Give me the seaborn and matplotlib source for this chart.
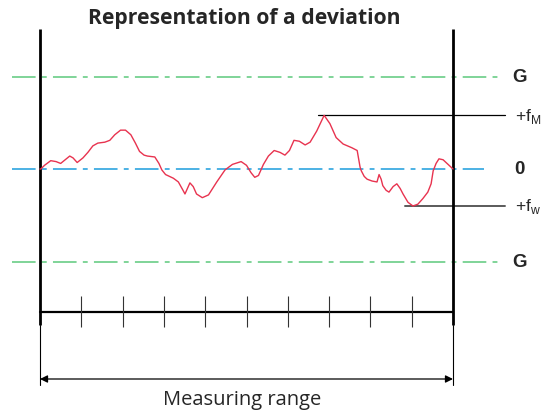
import matplotlib
matplotlib.use("Agg")
import matplotlib.pyplot as plt
import numpy as np
import pandas as pd
import seaborn as sns

# Position along the measuring range (10 scale divisions) and deviation
# (in units of the tolerance limit G)
position = [0.00, 0.02, 0.11, 0.26, 0.39, 0.50, 0.61, 0.72, 0.80, 0.90,
            1.04, 1.16, 1.28, 1.40, 1.57, 1.69, 1.81, 1.95, 2.07, 2.20,
            2.31, 2.41, 2.52, 2.60, 2.78, 2.88, 2.95, 3.04, 3.23, 3.35,
            3.45, 3.51, 3.58, 3.63, 3.71, 3.79, 3.93, 4.08, 4.28, 4.48,
            4.66, 4.87, 5.00, 5.11, 5.20, 5.29, 5.41, 5.53, 5.67, 5.81,
            5.93, 6.04, 6.15, 6.28, 6.42, 6.54, 6.70, 6.88, 7.02, 7.17,
            7.34, 7.55, 7.68, 7.75, 7.78, 7.85, 7.92, 8.04, 8.16, 8.21,
            8.26, 8.30, 8.38, 8.45, 8.55, 8.64, 8.72, 8.79, 8.91, 9.03,
            9.15, 9.27, 9.39, 9.47, 9.52, 9.59, 9.66, 9.76, 9.88, 10.00]
deviation = [0.00, 0.00, 0.04, 0.09, 0.08, 0.06, 0.10, 0.14, 0.12, 0.07,
             0.12, 0.18, 0.25, 0.28, 0.29, 0.31, 0.37, 0.42, 0.42, 0.37,
             0.28, 0.19, 0.15, 0.14, 0.13, 0.06, -0.01, -0.06, -0.10, -0.14,
             -0.22, -0.27, -0.20, -0.15, -0.19, -0.27, -0.31, -0.28, -0.14, -0.01,
             0.05, 0.08, 0.04, -0.04, -0.09, -0.07, 0.05, 0.14, 0.20, 0.18,
             0.15, 0.20, 0.31, 0.30, 0.26, 0.29, 0.41, 0.58, 0.49, 0.34,
             0.27, 0.23, 0.20, 0.02, -0.02, -0.08, -0.11, -0.13, -0.14, -0.06,
             -0.11, -0.18, -0.23, -0.25, -0.19, -0.16, -0.21, -0.27, -0.36, -0.40,
             -0.38, -0.32, -0.25, -0.16, -0.02, 0.06, 0.11, 0.10, 0.05, 0.00]

n_divisions = 10
limit = 1.0
limit_label = "G"
zero_label = "0"
max_label = "+f$_\\mathregular{M}$"
min_label = "+f$_\\mathregular{w}$"
title = "Representation of a deviation"
range_label = "Measuring range"

df = pd.DataFrame({"position": position, "deviation": deviation})

sns.set_style("white")
plt.rcParams["font.family"] = ["DejaVu Sans"]
plt.rcParams["lines.scale_dashes"] = False

fig = plt.figure(figsize=(5.54, 4.14), dpi=100)
ax = fig.add_axes([0, 0, 1, 1])
# 41.3 px per division, 92.5 px per unit of deviation
xu, yu = 41.3, 92.5
ax.set_xlim(-40 / xu, 514 / xu)
ax.set_ylim(-244 / yu, 170 / yu)
ax.axis("off")

dashdot = (0, (17, 4.5, 3.5, 4.5))
green = "#5cc97c"
blue = "#1b9ddc"
label_font = ["Liberation Sans", "DejaVu Sans"]

# tolerance limits and zero line
for g in (limit, -limit):
    ax.plot([-0.68, 11.14], [g, g], color=green, lw=1.1, linestyle=dashdot)
    ax.text(11.6, g, limit_label, fontsize=13.5, fontweight="bold",
            ha="center", va="center", family=label_font)
ax.plot([-0.68, 10.75], [0, 0], color=blue, lw=1.1, linestyle=dashdot)
ax.text(11.6, 0, zero_label, fontsize=13.5, fontweight="bold",
        ha="center", va="center", family=label_font)

# deviation curve
sns.lineplot(data=df, x="position", y="deviation", ax=ax, color="#e8334f",
             lw=1.0, sort=False, zorder=3)
ax.lines[-1].set_solid_joinstyle("round")

# maximum and minimum markers
i_max = int(np.argmax(deviation))
i_min = int(np.argmin(deviation))
f_max = deviation[i_max]
f_min = deviation[i_min]
ax.plot([position[i_max] - 0.15, 11.26], [f_max, f_max], color="black", lw=0.9)
ax.plot([position[i_min] - 0.2, 11.26], [f_min, f_min], color="#5a5a5a", lw=1.4)
ax.text(11.5, f_max, max_label, fontsize=12.5, ha="left", va="center",
        family=label_font)
ax.text(11.5, f_min, min_label, fontsize=12.5, ha="left", va="center",
        family=label_font)

# measuring range boundaries
top = 140 / yu
bottom = -156 / yu
ext = -216 / yu
for xb in (0, n_divisions):
    ax.plot([xb, xb], [top, bottom], color="black", lw=2.0, solid_capstyle="butt")
    ax.plot([xb, xb], [bottom, ext], color="black", lw=0.8)

# scale with divisions
scale_y = -143 / yu
ax.plot([0, n_divisions], [scale_y, scale_y], color="black", lw=1.6)
ticks = np.arange(1, n_divisions)
ax.vlines(ticks, -127 / yu, -158 / yu, color="#333333", lw=0.8)

# measuring range arrow
arrow_y = -210 / yu
ax.annotate("", xy=(0, arrow_y), xytext=(n_divisions, arrow_y),
            arrowprops=dict(arrowstyle="<|-|>", color="black", lw=0.9,
                            mutation_scale=11, shrinkA=0, shrinkB=0))
ax.text(4.9, -230 / yu, range_label, fontsize=14.5,
        ha="center", va="center", family=["Open Sans", "DejaVu Sans"])

ax.text(4.95, 152 / yu, title, fontsize=15.2, fontweight="bold",
        ha="center", va="center", family=["Open Sans", "DejaVu Sans"])

fig.savefig("out.png", dpi=100)
